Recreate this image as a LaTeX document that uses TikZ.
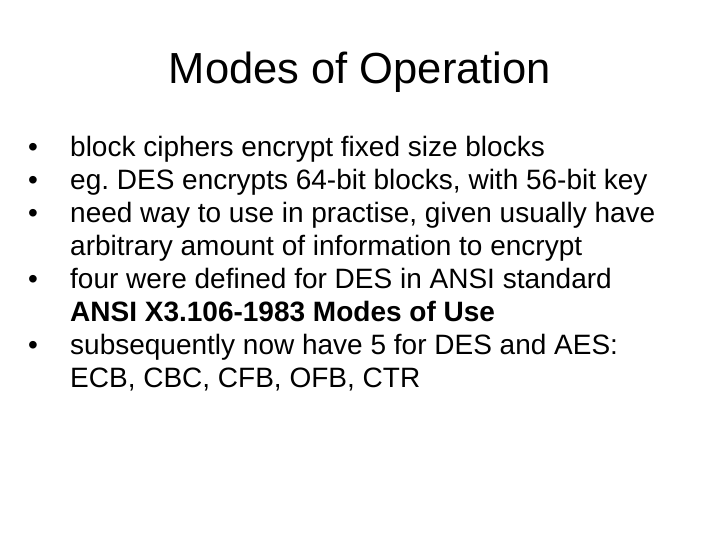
\documentclass[tikz,border=0pt]{standalone}
\usepackage{fontspec}
\setmainfont{Liberation Sans}
\begin{document}
\begin{tikzpicture}[x=1pt,y=1pt,
  ln/.style={anchor=base west,inner sep=0pt,font=\fontsize{28}{32}\selectfont},
  bul/.style={anchor=base west,inner sep=0pt,font=\fontsize{28}{32}\selectfont}]
\useasboundingbox (0,0) rectangle (720,540);
\node[anchor=base,inner sep=0pt,font=\fontsize{43.5}{48}\selectfont] (title) at (360,540-84) {Modes of Operation};
\foreach \i/\y in {1/157,2/190,3/223,4/289,5/355}{
  \node[bul] (b\i) at (28,540-\y) {•};
}
\node[ln] (l1) at (70,540-157) {block ciphers encrypt fixed size blocks};
\node[ln] (l2) at (70,540-190) {eg.\ DES encrypts 64-bit blocks, with 56-bit key};
\node[ln] (l3) at (70,540-223) {need way to use in practise, given usually have};
\node[ln] (l4) at (70,540-256) {arbitrary amount of information to encrypt};
\node[ln] (l5) at (70,540-289) {four were defined for DES in ANSI standard};
\node[ln] (l6) at (70,540-322) {\bfseries ANSI X3.106-1983 Modes of Use};
\node[ln] (l7) at (70,540-355) {subsequently now have 5 for DES and AES:};
\node[ln] (l8) at (70,540-388) {ECB, CBC, CFB, OFB, CTR};
\end{tikzpicture}
\end{document}
